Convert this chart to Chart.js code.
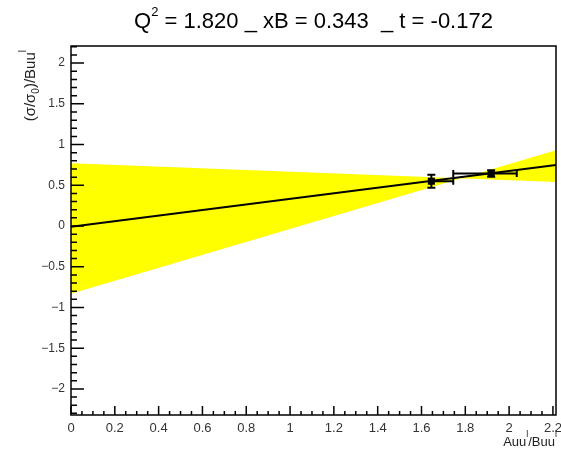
<!DOCTYPE html>
<html>
<head>
<meta charset="utf-8">
<script src="https://cdn.jsdelivr.net/npm/chart.js@4.4.1/dist/chart.umd.min.js"></script>
<style>
  html, body { margin: 0; padding: 0; background: #fff; }
  #wrap { width: 561px; height: 455px; }
</style>
</head>
<body>
<div id="wrap"><canvas id="chart"></canvas></div>
<script>
// measured points (asymmetric x errors)
const pointX = [1.645, 1.918];
const pointY = [0.55, 0.645];
const xErrLow = [0, 0.173];
const xErrHigh = [0.1, 0.117];
const yErr = [0.08, 0.04];

// fit line and its error band (two crossing edges)
const fitX = [0, 2.214];
const fitY = [-0.01, 0.75];
const bandX = [0, 2.214];
const bandUpper = [0.77, 0.54];
const bandLower = [-0.83, 0.93];

const xTicks = [0, 0.2, 0.4, 0.6, 0.8, 1, 1.2, 1.4, 1.6, 1.8, 2, 2.2];
const yTicks = [-2, -1.5, -1, -0.5, 0, 0.5, 1, 1.5, 2];

const FONT = '"Liberation Sans", Arial, sans-serif';

function pts(xs, ys) {
  return xs.map((x, i) => ({ x: x, y: ys[i] }));
}

const rootStyle = {
  id: 'rootStyle',
  afterDraw(chart) {
    const ctx = chart.ctx;
    const a = chart.chartArea;
    const xs = chart.scales.x, ys = chart.scales.y;
    ctx.save();

    // error bars
    ctx.strokeStyle = '#000';
    ctx.lineWidth = 2;
    for (let i = 0; i < pointX.length; i++) {
      const px = xs.getPixelForValue(pointX[i]);
      const py = ys.getPixelForValue(pointY[i]);
      const x0 = xs.getPixelForValue(pointX[i] - xErrLow[i]);
      const x1 = xs.getPixelForValue(pointX[i] + xErrHigh[i]);
      const y0 = ys.getPixelForValue(pointY[i] - yErr[i]);
      const y1 = ys.getPixelForValue(pointY[i] + yErr[i]);
      ctx.beginPath();
      ctx.moveTo(x0, py); ctx.lineTo(x1, py);
      if (xErrLow[i] > 0) { ctx.moveTo(x0, py - 3.5); ctx.lineTo(x0, py + 3.5); }
      if (xErrHigh[i] > 0) { ctx.moveTo(x1, py - 3.5); ctx.lineTo(x1, py + 3.5); }
      ctx.moveTo(px, y0); ctx.lineTo(px, y1);
      ctx.moveTo(px - 4, y0); ctx.lineTo(px + 4, y0);
      ctx.moveTo(px - 4, y1); ctx.lineTo(px + 4, y1);
      ctx.stroke();
    }

    // frame
    ctx.lineWidth = 1.5;
    ctx.strokeRect(a.left, a.top, a.right - a.left, a.bottom - a.top);

    // ticks inside the frame
    ctx.beginPath();
    for (let v = -2.3; v <= 2.21; v += 0.1) {
      const vv = Math.round(v * 10) / 10;
      const y = ys.getPixelForValue(vv);
      if (y < a.top || y > a.bottom) continue;
      const major = Math.abs(vv * 2 - Math.round(vv * 2)) < 1e-6;
      ctx.moveTo(a.left, y); ctx.lineTo(a.left + (major ? 13 : 6), y);
    }
    for (let v = 0; v <= 2.214; v += 0.05) {
      const vv = Math.round(v * 100) / 100;
      const x = xs.getPixelForValue(vv);
      const major = Math.abs(vv * 5 - Math.round(vv * 5)) < 1e-6;
      ctx.moveTo(x, a.bottom); ctx.lineTo(x, a.bottom - (major ? 9 : 4));
    }
    ctx.stroke();

    // title
    ctx.fillStyle = '#000';
    ctx.textBaseline = 'alphabetic';
    ctx.textAlign = 'left';
    const tA = 'Q', tB = '2', tC = ' = 1.820 _ xB = 0.343  _ t = -0.172';
    ctx.font = '22px ' + FONT;
    const wA = ctx.measureText(tA).width, wC = ctx.measureText(tC).width;
    ctx.font = '13px ' + FONT;
    const wB = ctx.measureText(tB).width;
    let tx = (a.left + a.right) / 2 - (wA + wB + wC) / 2;
    const ty = 28;
    ctx.font = '22px ' + FONT; ctx.fillText(tA, tx, ty); tx += wA;
    ctx.font = '13px ' + FONT; ctx.fillText(tB, tx, ty - 12); tx += wB;
    ctx.font = '22px ' + FONT; ctx.fillText(tC, tx, ty);

    // x axis title
    ctx.fillStyle = '#222';
    const xParts = [['Auu', 13, 0], ['l', 9, -9], ['/Buu', 13, 0], ['l', 9, -9]];
    let totalW = 0;
    xParts.forEach(p => { ctx.font = p[1] + 'px ' + FONT; totalW += ctx.measureText(p[0]).width; });
    let cx = a.right + 1 - totalW;
    xParts.forEach(p => {
      ctx.font = p[1] + 'px ' + FONT;
      ctx.fillText(p[0], cx, 446 + p[2]);
      cx += ctx.measureText(p[0]).width;
    });

    // y axis title (rotated)
    const yParts = [['(σ/σ', 15, 0], ['0', 10, 4], [')/Buu', 15, 0], ['l', 10, -9]];
    ctx.translate(35, 50);
    ctx.rotate(-Math.PI / 2);
    totalW = 0;
    yParts.forEach(p => { ctx.font = p[1] + 'px ' + FONT; totalW += ctx.measureText(p[0]).width; });
    cx = -totalW;
    yParts.forEach(p => {
      ctx.font = p[1] + 'px ' + FONT;
      ctx.fillText(p[0], cx, p[2]);
      cx += ctx.measureText(p[0]).width;
    });
    ctx.restore();
  }
};

const fmt = v => String(v).replace('-', '\u2212');

new Chart(document.getElementById('chart'), {
  type: 'scatter',
  data: {
    datasets: [
      {
        data: pts(pointX, pointY),
        pointStyle: 'rect',
        pointRadius: 5,
        backgroundColor: '#000',
        borderColor: '#000',
        borderWidth: 0,
        order: 0
      },
      {
        data: pts(fitX, fitY),
        showLine: true,
        borderColor: '#000',
        borderWidth: 2,
        pointRadius: 0,
        order: 1
      },
      {
        data: pts(bandX, bandUpper),
        showLine: true,
        borderWidth: 0,
        borderColor: 'rgba(0,0,0,0)',
        pointRadius: 0,
        order: 3
      },
      {
        data: pts(bandX, bandLower),
        showLine: true,
        borderWidth: 0,
        borderColor: 'rgba(0,0,0,0)',
        backgroundColor: '#ffff00',
        pointRadius: 0,
        fill: { target: 2 },
        order: 2
      }
    ]
  },
  options: {
    responsive: true,
    maintainAspectRatio: false,
    animation: false,
    layout: { padding: { top: 46, right: 3, left: 0, bottom: 0 } },
    plugins: {
      legend: { display: false },
      tooltip: { enabled: false },
      filler: { propagate: false }
    },
    scales: {
      x: {
        type: 'linear',
        min: 0,
        max: 2.214,
        grid: { display: false, drawTicks: false, tickLength: 0 },
        border: { display: false },
        afterBuildTicks: s => { s.ticks = xTicks.map(v => ({ value: v })); },
        afterFit: s => { s.height = 40; s.paddingLeft = 0; s.paddingRight = 0; },
        ticks: {
          padding: 6,
          color: '#333',
          font: { family: FONT, size: 13 },
          maxRotation: 0,
          callback: v => fmt(v)
        }
      },
      y: {
        min: -2.32,
        max: 2.21,
        grid: { display: false, drawTicks: false, tickLength: 0 },
        border: { display: false },
        afterBuildTicks: s => { s.ticks = yTicks.map(v => ({ value: v })); },
        afterFit: s => { s.width = 71; s.paddingTop = 0; s.paddingBottom = 0; },
        ticks: {
          padding: 6,
          color: '#333',
          font: { family: FONT, size: 12 },
          callback: v => fmt(v)
        }
      }
    }
  },
  plugins: [rootStyle]
});
</script>
</body>
</html>
